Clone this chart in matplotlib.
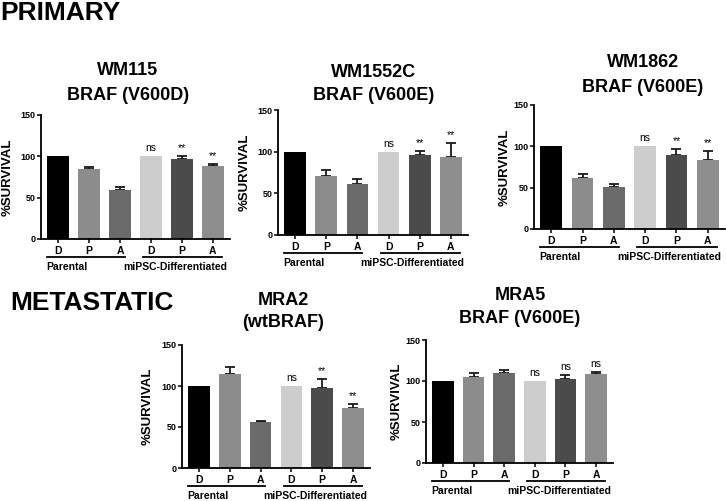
import matplotlib
matplotlib.use("Agg")
import matplotlib.pyplot as plt
from matplotlib.transforms import blended_transform_factory

plt.rcParams['font.family'] = ['Liberation Sans', 'DejaVu Sans']

W, H = 726, 501

conditions = ['D', 'P', 'A', 'D', 'P', 'A']
bar_colors = ['#000000', '#8c8c8c', '#6b6b6b', '#cdcdcd', '#4b4b4b', '#8e8e8e']

titles = [('WM115', 'BRAF (V600D)'),
          ('WM1552C', 'BRAF (V600E)'),
          ('WM1862', 'BRAF (V600E)'),
          ('MRA2', '(wtBRAF)'),
          ('MRA5', 'BRAF (V600E)')]

wm115 = [100, 85, 59, 100, 97, 88]
wm115_err = [0, 2.5, 4, 0, 3.5, 3.2]
wm1552c = [100, 71, 61, 100, 96, 94]
wm1552c_err = [0, 7, 6, 0, 5, 17]
wm1862 = [100, 62, 51, 100, 90, 84]
wm1862_err = [0, 5, 3.5, 0, 7, 10]
mra2 = [100, 115, 56, 100, 97, 73]
mra2_err = [0, 8.5, 1.2, 0, 12, 5]
mra5 = [100, 105, 110, 100, 102, 108]
mra5_err = [0, 5, 4, 0, 5, 3.5]

sig_primary = [None, None, None, 'ns', '**', '**']
sig_mra5 = [None, None, None, 'ns', 'ns', 'ns']

values = [wm115, wm1552c, wm1862, mra2, mra5]
errors = [wm115_err, wm1552c_err, wm1862_err, mra2_err, mra5_err]
sigs = [sig_primary, sig_primary, sig_primary, sig_primary, sig_mra5]

# layout in pixels: left, right, top, bottom, ylabel right edge, title centre x, title baselines
panels = [
    (41, 230, 115, 239, 14, 128, (75, 100)),
    (278, 468, 110, 235, 251, 374, (77, 100)),
    (534, 725, 105, 229, 511, 643, (67, 92)),
    (182, 370, 345, 468, 154, 283, (305, 327)),
    (426, 613, 340, 463, 403, 520, (300, 323)),
]

fig = plt.figure(figsize=(W / 100, H / 100), dpi=100)

x = list(range(len(conditions)))

for i, (l, r, t, b, ylab_r, tx, (tb1, tb2)) in enumerate(panels):
    ax = fig.add_axes([l / W, 1 - b / H, (r - l) / W, (b - t) / H])
    vals = values[i]
    errs = errors[i]
    # only upward whiskers, and only where there is an error
    ex = [xi for xi, e in zip(x, errs) if e > 0]
    ev = [v for v, e in zip(vals, errs) if e > 0]
    ee = [e for e in errs if e > 0]
    ax.errorbar(ex, ev, yerr=[[0] * len(ee), ee], fmt='none',
                ecolor='#1a1a1a', elinewidth=1.3, capsize=3.5, capthick=1.3, zorder=1)
    ax.bar(x, vals, width=0.7, color=bar_colors, zorder=2)
    for xi, v, e, s in zip(x, vals, errs, sigs[i]):
        if s:
            ax.annotate(s, (xi, v + e), xytext=(0, 3.5), textcoords='offset points',
                        ha='center', va='baseline', fontsize=7.5)
    ax.set_xlim(-0.55, 5.55)
    ax.set_ylim(0, 150)
    ax.set_yticks([0, 50, 100, 150])
    ax.set_xticks(x)
    ax.set_xticklabels(conditions, fontsize=7.5, fontweight='bold')
    for lab in ax.get_yticklabels():
        lab.set_fontsize(6.5)
        lab.set_fontweight('bold')
    ax.tick_params(length=3, width=1.1, pad=2)
    ax.tick_params(axis='y', pad=1)
    for side in ['top', 'right']:
        ax.spines[side].set_visible(False)
    for side in ['left', 'bottom']:
        ax.spines[side].set_linewidth(1.3)
    ax.set_ylabel('%SURVIVAL', fontsize=9.5, fontweight='bold')
    ax.yaxis.set_label_coords((ylab_r - l) / (r - l), 0.5)

    # group underlines and labels below the x axis
    h = b - t
    trans = blended_transform_factory(ax.transData, ax.transAxes)
    ax.plot([-0.37, 2.15], [-18 / h] * 2, color='black', lw=1.3, transform=trans, clip_on=False)
    ax.plot([2.75, 5.28], [-18 / h] * 2, color='black', lw=1.3, transform=trans, clip_on=False)
    ax.text(-0.37, -28 / h, 'Parental', transform=trans, ha='left', va='center',
            fontsize=7.5, fontweight='bold')
    ax.text(2.1, -28 / h, 'miPSC-Differentiated', transform=trans, ha='left', va='center',
            fontsize=7.5, fontweight='bold')

    fig.text(tx / W, 1 - tb1 / H, titles[i][0], ha='center', va='baseline',
             fontsize=13, fontweight='bold')
    fig.text(tx / W, 1 - tb2 / H, titles[i][1], ha='center', va='baseline',
             fontsize=13, fontweight='bold')

fig.text(0, 1 - 20 / H, 'PRIMARY', ha='left', va='baseline', fontsize=19, fontweight='bold')
fig.text(10 / W, 1 - 310 / H, 'METASTATIC', ha='left', va='baseline', fontsize=19, fontweight='bold')

fig.savefig('out.png', dpi=100)
